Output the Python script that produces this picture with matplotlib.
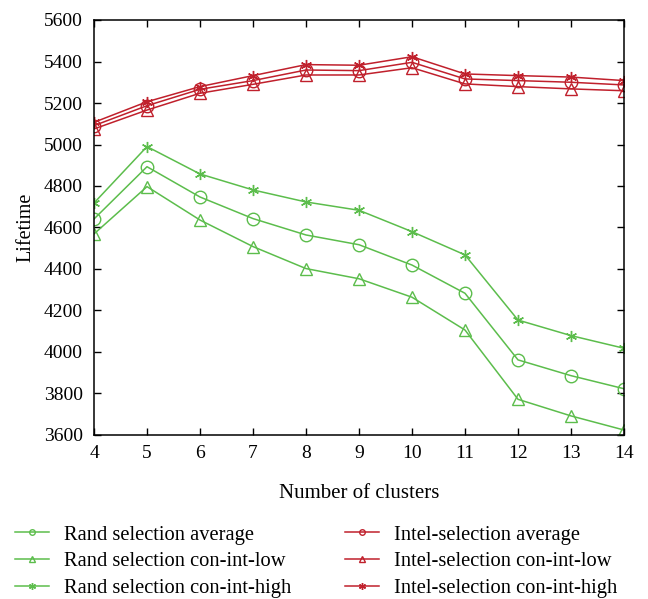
import numpy as np
import matplotlib.pyplot as plt
from matplotlib.lines import Line2D

plt.rcParams['font.family'] = ['Liberation Serif', 'DejaVu Serif']

clusters = [4, 5, 6, 7, 8, 9, 10, 11, 12, 13, 14]

rand_avg = [4641, 4893, 4747, 4643, 4564, 4517, 4419, 4283, 3962, 3886, 3823]
rand_low = [4569, 4797, 4636, 4508, 4402, 4353, 4264, 4106, 3772, 3692, 3624]
rand_high = [4718, 4990, 4858, 4781, 4723, 4683, 4580, 4468, 4154, 4079, 4018]

intel_avg = [5091, 5187, 5266, 5308, 5359, 5356, 5396, 5316, 5308, 5300, 5287]
intel_low = [5075, 5166, 5247, 5290, 5335, 5335, 5370, 5292, 5279, 5268, 5259]
intel_high = [5107, 5206, 5279, 5332, 5385, 5382, 5423, 5340, 5332, 5325, 5308]

labels = ['Rand selection average', 'Rand selection con-int-low',
          'Rand selection con-int-high', 'Intel-selection average',
          'Intel-selection con-int-low', 'Intel-selection con-int-high']

green = '#5cbd4c'
red = '#c0202c'
star = (6, 2, 0)

fig = plt.figure(figsize=(6.48, 5.99), dpi=100)
ax = fig.add_axes([94 / 648, 1 - 435 / 599, 530 / 648, 415 / 599])

series = [
    (rand_avg, green, 'o', 9),
    (rand_low, green, '^', 9),
    (rand_high, green, star, 8),
    (intel_avg, red, 'o', 9),
    (intel_low, red, '^', 9),
    (intel_high, red, star, 8),
]
handles = []
for (vals, c, m, ms), lab in zip(series, labels):
    ax.plot(clusters, vals, color=c, lw=1.1, marker=m, ms=ms,
            mfc='none', mec=c, mew=1.0)
    handles.append(Line2D([], [], color=c, lw=1.1, marker=m,
                          ms=4 if m != star else 5, mfc='none', mec=c, mew=1.0))

ax.set_xlim(4, 14)
ax.set_ylim(3600, 5600)
ax.set_xticks(clusters)
ax.set_yticks(np.arange(3600, 5601, 200))
ax.tick_params(direction='in', length=5, width=1, labelsize=14,
               top=True, right=True)
ax.tick_params(axis='x', pad=7)
ax.tick_params(axis='y', pad=8)
for s in ax.spines.values():
    s.set_linewidth(1.1)
ax.set_xlabel('Number of clusters', fontsize=15, labelpad=16)
ax.set_ylabel('Lifetime', fontsize=14.5, labelpad=6)

fig.legend(handles, labels, loc='upper left', bbox_to_anchor=(0.011, 0.137),
           ncol=2, frameon=False, fontsize=14.8, handlelength=1.65,
           handletextpad=0.73, columnspacing=2.6, labelspacing=0.36,
           borderaxespad=0)

fig.savefig('out.png', dpi=100)
